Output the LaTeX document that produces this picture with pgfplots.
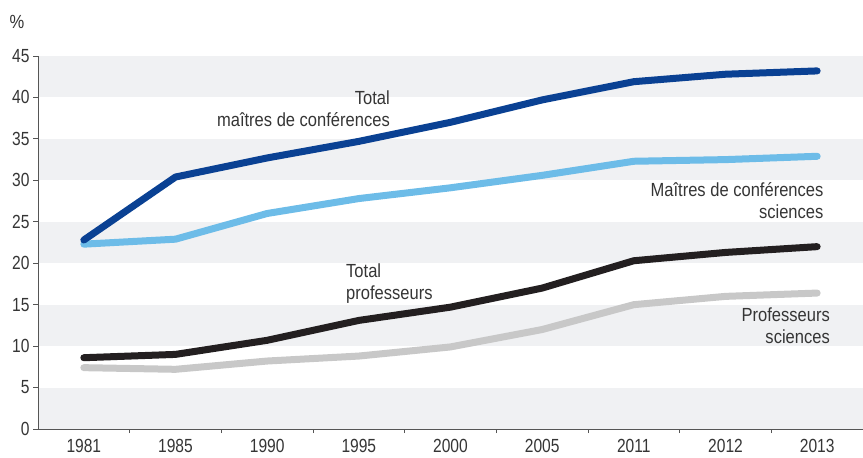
\documentclass[border=0pt]{standalone}
\usepackage{fontspec}
\setmainfont{Liberation Sans}[FakeStretch=0.87]
\newfontfamily\tickfont{Liberation Sans}[FakeStretch=0.82]
\usepackage{pgfplots}
\pgfplotsset{compat=1.18}
\definecolor{band}{HTML}{F0F1F3}
\definecolor{axisgray}{HTML}{555555}
\definecolor{txt}{HTML}{353535}
\definecolor{mcfblue}{HTML}{0A4193}
\definecolor{sciblue}{HTML}{6DBCE8}
\definecolor{profblack}{HTML}{231F20}
\definecolor{profgray}{HTML}{C8C8C8}
\begin{document}
\begin{tikzpicture}
\begin{axis}[
  scale only axis, width=825pt, height=373pt,
  xmin=-0.5, xmax=8.5, ymin=0, ymax=45,
  axis lines*=left, axis line style={-, draw=axisgray, line width=0.8pt},
  axis on top,
  xtick={0,...,8},
  xticklabels={1981,1985,1990,1995,2000,2005,2011,2012,2013},
  minor xtick={0.5,1.5,...,7.5},
  major x tick style={draw=none},
  ytick={0,5,...,45},
  tick align=outside, major tick length=5pt, minor tick length=4pt,
  tick style={draw=axisgray, line width=0.8pt},
  /pgf/number format/assume math mode=true,
  font=\fontsize{19}{22}\selectfont,
  tick label style={text=txt, font=\tickfont\fontsize{19}{22}\selectfont},
  x tick label style={yshift=-2pt},
  every axis plot/.append style={line width=7pt, line cap=round, line join=round, no marks},
]
\fill[band] (axis cs:-0.5,0) rectangle (axis cs:8.5,5);
\fill[band] (axis cs:-0.5,10) rectangle (axis cs:8.5,15);
\fill[band] (axis cs:-0.5,20) rectangle (axis cs:8.5,25);
\fill[band] (axis cs:-0.5,30) rectangle (axis cs:8.5,35);
\fill[band] (axis cs:-0.5,40) rectangle (axis cs:8.5,45);

\addplot[profgray] coordinates {
(0,7.4) (1,7.2) (2,8.2) (3,8.8) (4,9.9) (5,12.0) (6,15.0) (7,16.0) (8,16.4)
};
\addplot[profblack] coordinates {
(0,8.6) (1,9.0) (2,10.7) (3,13.1) (4,14.7) (5,17.0) (6,20.3) (7,21.3) (8,22.0)
};
\addplot[sciblue] coordinates {
(0,22.3) (1,22.9) (2,26.0) (3,27.8) (4,29.1) (5,30.6) (6,32.3) (7,32.5) (8,32.9)
};
\addplot[mcfblue] coordinates {
(0,22.8) (1,30.4) (2,32.7) (3,34.7) (4,37.0) (5,39.7) (6,41.9) (7,42.8) (8,43.2)
};

\node[anchor=east, align=right, text=txt, inner sep=0pt] at (axis cs:3.34,38.7) {Total\\maîtres de conférences};
\node[anchor=east, align=right, text=txt, inner sep=0pt] at (axis cs:8.07,27.5) {Maîtres de conférences\\sciences};
\node[anchor=west, align=left, text=txt, inner sep=0pt] at (axis cs:2.86,17.5) {Total\\professeurs};
\node[anchor=east, align=right, text=txt, inner sep=0pt] at (axis cs:8.14,12.5) {Professeurs\\sciences};
\end{axis}
\node[text=txt, inner sep=0pt, font=\fontsize{19}{22}\selectfont] at ([xshift=-21pt,yshift=34pt]current axis.north west) {\%};
\pgfresetboundingbox
\path ([xshift=-38pt,yshift=-28pt]current axis.south west) rectangle ([yshift=56pt]current axis.north east);
\end{tikzpicture}
\end{document}
